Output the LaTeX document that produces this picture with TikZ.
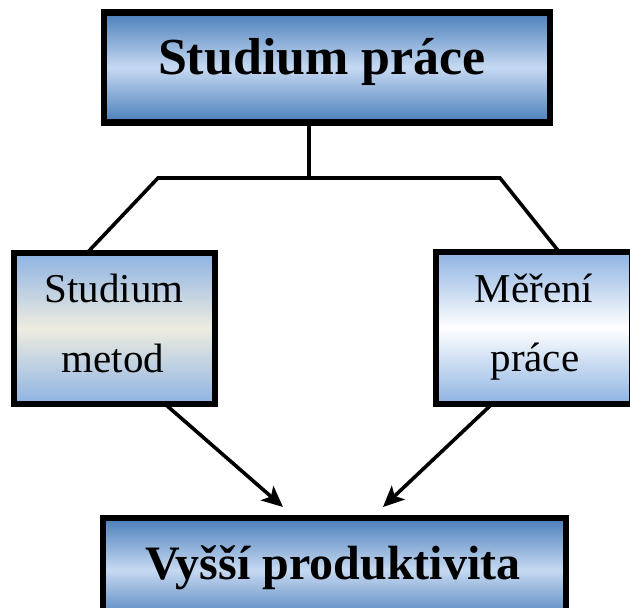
\documentclass[tikz,border=0pt]{standalone}
\usepackage{fontspec}
\setmainfont{Liberation Serif}
\usetikzlibrary{arrows.meta}

\definecolor{deepblue}{HTML}{4A7EBB}
\definecolor{paleblue}{HTML}{C6D9F1}
\definecolor{midblue}{HTML}{8DB3E2}
\definecolor{cream}{HTML}{EEECE1}

\tikzset{
  box/.style={draw=black, line width=6.5pt, inner sep=0pt, outer sep=0pt},
  mainbox/.style={box, top color=deepblue, bottom color=deepblue, middle color=paleblue},
  methodbox/.style={box, top color=midblue, bottom color=midblue, middle color=cream},
  measurebox/.style={box, top color=midblue, bottom color=midblue, middle color=white},
  bigtext/.style={anchor=base, inner sep=0pt, font=\fontsize{52}{52}\selectfont\bfseries},
  lowtext/.style={anchor=base, inner sep=0pt, font=\fontsize{48}{48}\selectfont\bfseries},
  sidetext/.style={anchor=base, inner sep=0pt, font=\fontsize{41}{41}\selectfont},
  link/.style={line width=3.6pt, line join=miter},
  flow/.style={line width=3.6pt, -{Stealth[length=21pt, width=19pt, inset=5pt]}},
}

\begin{document}
\begin{tikzpicture}[x=1pt, y=1pt]
  \useasboundingbox (0,0) rectangle (630,608);
  \clip (0,0) rectangle (630,608);

  % joints of the tree below the title box
  \coordinate (hub) at (309,430);
  \coordinate (jl) at (158,430);
  \coordinate (jr) at (500,430);

  % branches drawn first so the box borders cover their ends
  \draw[link] (87,355) -- (jl) -- (jr) -- (560,355);

  % boxes
  \node[mainbox, minimum width=446pt, minimum height=110pt] (top) at (327,540.5) {};
  \node[methodbox, minimum width=201pt, minimum height=151pt] (left) at (114.5,279.5) {};
  \node[measurebox, minimum width=196pt, minimum height=152pt] (right) at (534,280) {};
  \node[mainbox, minimum width=463pt, minimum height=104pt] (bottom) at (334.5,38) {};

  % texts
  \node[bigtext] (topText) at (322,533) {Studium práce};
  \node[sidetext] (leftA) at (114,305) {Studium};
  \node[sidetext] (leftB) at (113,235) {metod};
  \node[sidetext] (rightA) at (534,305) {Měření};
  \node[sidetext] (rightB) at (535,236) {práce};
  \node[lowtext] (bottomText) at (333,28) {Vyšší produktivita};

  % arrows into the result box
  \coordinate (tipL) at (283,101);
  \coordinate (tipR) at (383,101);
  \draw[flow] (165,0 |- left.south) -- (tipL);
  \draw[flow] (492,0 |- right.south) -- (tipR);

  % stem from the title box down to the joint
  \draw[link] (top.south -| hub) -- (hub);
\end{tikzpicture}
\end{document}
